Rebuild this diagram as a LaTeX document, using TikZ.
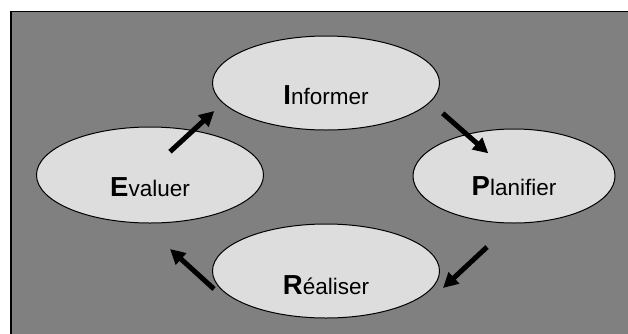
\documentclass[tikz,border=0pt]{standalone}
\usepackage{fontspec}
\setmainfont{Liberation Sans}
\usetikzlibrary{arrows.meta,shapes.geometric}
\definecolor{fond}{HTML}{808080}
\definecolor{bulle}{HTML}{DDDDDD}

\newcommand{\initiale}[1]{{\fontsize{27.5}{30}\selectfont\bfseries #1}}

\begin{document}
\begin{tikzpicture}[x=1pt,y=-1pt,>={Triangle[length=15pt,width=15pt]},
    etape/.style={ellipse,draw,line width=1pt,fill=bulle,inner sep=0pt,minimum width=227pt,minimum height=94pt},
    mot/.style={anchor=base,font=\fontsize{22.5}{24}\selectfont},
    fleche/.style={->,line width=5pt}]
  \useasboundingbox (0,0) rectangle (628,333);
  \clip (0,0) rectangle (628,333);
  % cadre gris
  \draw[fill=fond,line width=1.5pt] (11,11.5) rectangle (650,350);

  % les quatre etapes
  \node[etape] (I) at (326,83) {};
  \node[etape,minimum width=202pt] (P) at (514,176) {};
  \node[etape] (R) at (326,271) {};
  \node[etape,minimum height=96pt] (E) at (150,175) {};

  \node[mot] (tI) at ([yshift=-21pt]I.center) {\initiale{I}nformer};
  \node[mot] (tP) at ([yshift=-19pt]P.center) {\initiale{P}lanifier};
  \node[mot] (tR) at ([yshift=-23pt]R.center) {\initiale{R}éaliser};
  \node[mot] (tE) at ([yshift=-21pt]E.center) {\initiale{E}valuer};

  % points de depart et d'arrivee des fleches
  \coordinate (IP1) at ([shift={(116.7,30.3)}]I.center);
  \coordinate (IP2) at ([shift={(-25.7,-22.7)}]P.center);
  \coordinate (PR1) at ([shift={(-27,71)}]P.center);
  \coordinate (PR2) at ([shift={(117,17)}]R.center);
  \coordinate (RE1) at ([shift={(-112,18)}]R.center);
  \coordinate (RE2) at ([shift={(20,74)}]E.center);
  \coordinate (EI1) at ([shift={(20,-23.3)}]E.center);
  \coordinate (EI2) at ([shift={(-111.7,28)}]I.center);

  \draw[fleche] (IP1) -- (IP2);
  \draw[fleche] (PR1) -- (PR2);
  \draw[fleche] (RE1) -- (RE2);
  \draw[fleche] (EI1) -- (EI2);
\end{tikzpicture}
\end{document}
